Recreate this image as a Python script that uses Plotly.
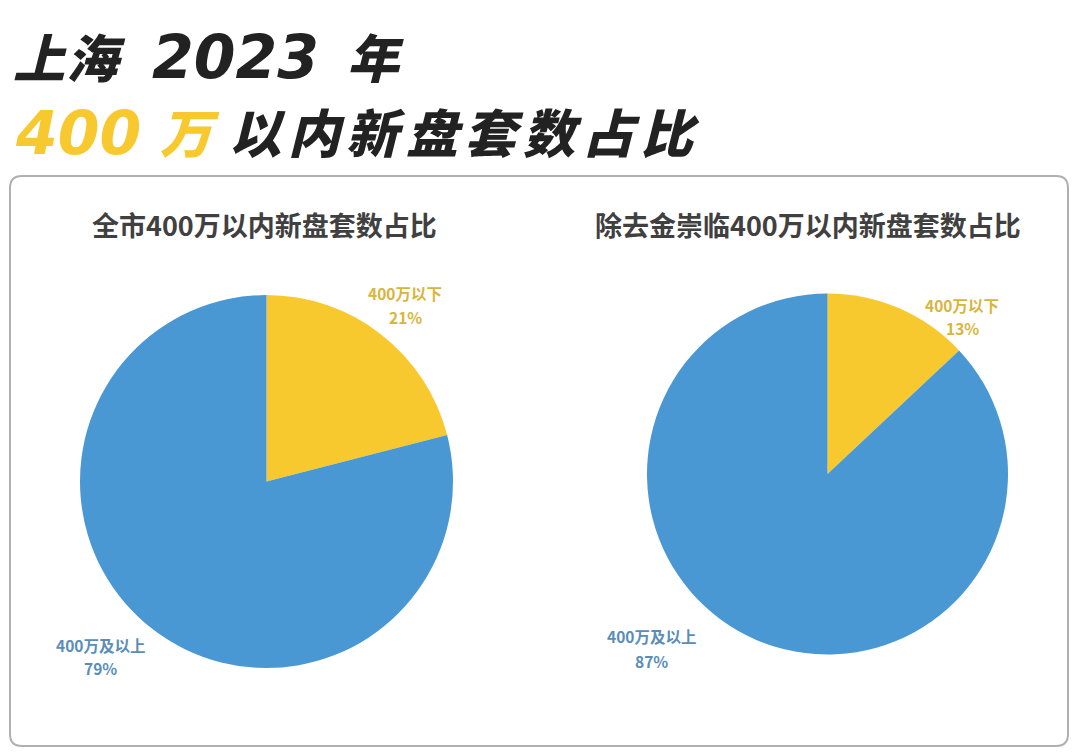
import plotly.graph_objects as go

# ---- data ----
categories = ["400万以下", "400万及以上"]
city_values = [21, 79]
excl_values = [13, 87]
chart_titles = ["全市400万以内新盘套数占比", "除去金崇临400万以内新盘套数占比"]
title_line1 = ["上海", "2023", "年"]
title_line2 = ["400", "万", "以内新盘套数占比"]

YELLOW = "#F8C92F"
BLUE = "#4A98D3"
YELLOW_TXT = "#D8B53C"
BLUE_TXT = "#5A8DB8"
DARK = "#222222"
W, H = 1080, 756
FONT = "Noto Sans CJK SC"
DIGIT_FONT = "DejaVu Sans"

def px(x0, x1):
    return [x0 / W, x1 / W]

def py(top, bottom):
    return [1 - bottom / H, 1 - top / H]

fig = go.Figure()
fig.add_trace(go.Pie(
    labels=categories, values=city_values, sort=False, direction="clockwise",
    rotation=0, marker=dict(colors=[YELLOW, BLUE], line=dict(width=0)),
    textinfo="none", hoverinfo="label+percent", showlegend=False,
    domain=dict(x=px(80, 453), y=py(295, 668)),
))
fig.add_trace(go.Pie(
    labels=categories, values=excl_values, sort=False, direction="clockwise",
    rotation=0, marker=dict(colors=[YELLOW, BLUE], line=dict(width=0)),
    textinfo="none", hoverinfo="label+percent", showlegend=False,
    domain=dict(x=px(647, 1008), y=py(293, 655)),
))

annotations = []

def add_text(x, y, text, size, color, family=FONT, weight=700, xanchor="left", italic=False):
    annotations.append(dict(
        x=x / W, y=1 - y / H, xref="paper", yref="paper", xanchor=xanchor, yanchor="middle",
        text=f"<i>{text}</i>" if italic else text, showarrow=False,
        font=dict(family=family, size=size, color=color, weight=weight),
    ))

def add_spaced(x_start, advance, y, text, size, color):
    for i, ch in enumerate(text):
        add_text(x_start + advance * (i + 0.5), y, ch, size, color,
                 weight=900, xanchor="center", italic=True)

# big title (pieces positioned separately so CJK and digits match widths)
L1, L2 = 55, 131
add_spaced(12, 56, L1, title_line1[0], 52, DARK)
add_text(235, L1 + 2, title_line1[1], 60, DARK, family=DIGIT_FONT, weight=700,
         xanchor="center", italic=True)
add_spaced(345, 60, L1, title_line1[2], 52, DARK)
add_text(78, L2 + 2, title_line2[0], 60, YELLOW, family=DIGIT_FONT, weight=700,
         xanchor="center", italic=True)
add_spaced(160, 60, L2, title_line2[1], 52, YELLOW)
add_spaced(228, 59, L2, title_line2[2], 52, DARK)

# subtitles
for cx, t in zip([264, 808], chart_titles):
    add_text(cx, 224, t, 27, "#404040", weight=700, xanchor="center")

# slice labels (name line + percent line)
label_pos = [
    [(405, 293, 317, YELLOW_TXT), (100, 645, 668, BLUE_TXT)],
    [(962, 305, 328, YELLOW_TXT), (651, 636, 661, BLUE_TXT)],
]
for vals, poss in zip([city_values, excl_values], label_pos):
    for cat, v, (lx, ly1, ly2, col) in zip(categories, vals, poss):
        add_text(lx, ly1, cat, 15.5, col, weight=700, xanchor="center")
        add_text(lx, ly2, f"{v}%", 15.5, col, weight=700, xanchor="center")

# rounded box
x0, x1, y0, y1, r = 10, 1068, 176, 746, 12
path = (f"M {x0 + r},{y0} L {x1 - r},{y0} Q {x1},{y0} {x1},{y0 + r} "
        f"L {x1},{y1 - r} Q {x1},{y1} {x1 - r},{y1} L {x0 + r},{y1} "
        f"Q {x0},{y1} {x0},{y1 - r} L {x0},{y0 + r} Q {x0},{y0} {x0 + r},{y0} Z")

def to_paper_path(p):
    out = []
    for tok in p.split(" "):
        if "," in tok:
            a, b = tok.split(",")
            out.append(f"{float(a) / W:.5f},{1 - float(b) / H:.5f}")
        else:
            out.append(tok)
    return " ".join(out)

fig.update_layout(
    width=W, height=H,
    margin=dict(l=0, r=0, t=0, b=0),
    paper_bgcolor="white", plot_bgcolor="white",
    annotations=annotations,
    shapes=[dict(type="path", xref="paper", yref="paper", path=to_paper_path(path),
                 line=dict(color="#B0B0B0", width=2), fillcolor="rgba(0,0,0,0)", layer="below")],
    font=dict(family=FONT),
)

fig.write_html("out.html")
